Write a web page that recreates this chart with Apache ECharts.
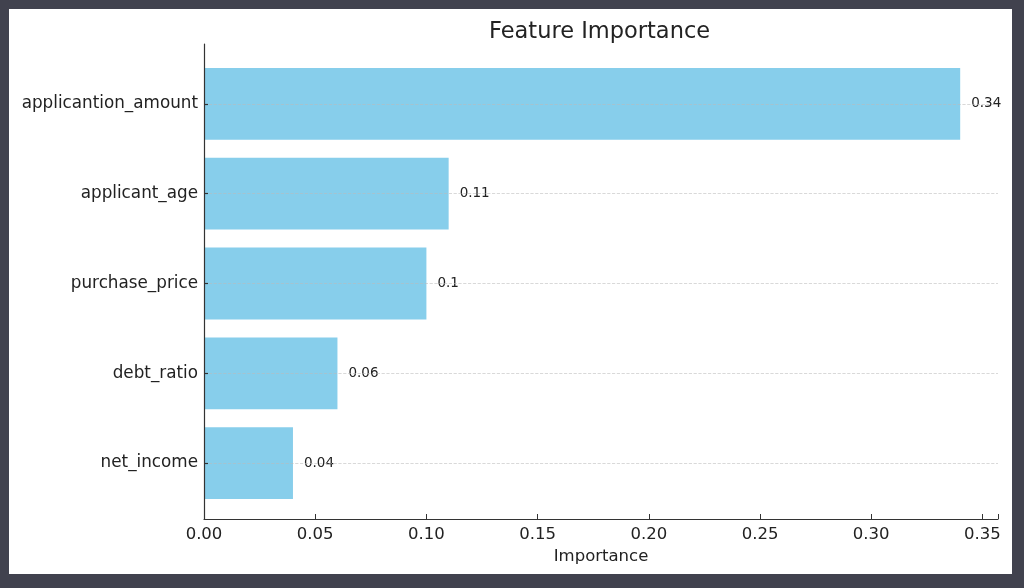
<!DOCTYPE html>
<html>
<head>
<meta charset="utf-8">
<script src="https://cdn.jsdelivr.net/npm/echarts@6/dist/echarts.min.js"></script>
<style>
  html, body { margin: 0; padding: 0; background: #41424e; width: 1024px; height: 588px; overflow: hidden; }
  #card { position: absolute; left: 9px; top: 9px; width: 1003px; height: 565px; background: #fff; }
  #chart { width: 1003px; height: 565px; }
</style>
</head>
<body>
<div id="card"><div id="chart"></div></div>
<script>
// data
var features = ['applicantion_amount', 'applicant_age', 'purchase_price', 'debt_ratio', 'net_income'];
var importance = [0.34, 0.11, 0.1, 0.06, 0.04];
var xTicks = [0, 0.05, 0.10, 0.15, 0.20, 0.25, 0.30, 0.35];

var font = 'DejaVu Sans';
var xMax = 0.357;

var chart = echarts.init(document.getElementById('chart'));
var option = {
    animation: false,
    textStyle: { fontFamily: font },
    title: {
        text: 'Feature Importance',
        left: 475,
        top: 7,
        textStyle: { fontFamily: font, fontSize: 22.5, fontWeight: 'normal', color: '#222' }
    },
    grid: [
        // bars
        { left: 195, right: 14, top: 50, bottom: 66 },
        // frame (spines + x axis)
        { left: 195, right: 14, top: 35, bottom: 55 }
    ],
    xAxis: [
        { gridIndex: 0, type: 'value', min: 0, max: xMax, show: false },
        {
            gridIndex: 1, type: 'value', min: 0, max: xMax, interval: 0.05,
            name: 'Importance', nameLocation: 'middle', nameGap: 25,
            nameTextStyle: { fontFamily: font, fontSize: 16.5, color: '#222' },
            axisLine: { show: true, lineStyle: { color: '#333', width: 1.2 } },
            axisTick: { show: true, inside: true, length: 5, lineStyle: { color: '#333' } },
            axisLabel: {
                fontFamily: font, fontSize: 16.5, color: '#222', margin: 7,
                showMaxLabel: true,
                formatter: function (v) { return xTicks.indexOf(+v.toFixed(2)) >= 0 ? v.toFixed(2) : ''; }
            },
            splitLine: { show: false }
        }
    ],
    yAxis: [
        {
            gridIndex: 0, type: 'category', data: features, inverse: true, z: 5,
            axisLine: { show: true, lineStyle: { color: 'rgba(0,0,0,0)' } },
            axisTick: { show: true, inside: true, length: 4, alignWithLabel: true, lineStyle: { color: '#333', width: 1.2 } },
            axisLabel: { fontFamily: font, fontSize: 16.8, color: '#222', margin: 6 },
            splitLine: { show: false }
        },
        {
            gridIndex: 1, type: 'value', min: 0, max: 1, z: 5,
            axisLine: { show: true, lineStyle: { color: '#333', width: 1.2 } },
            axisTick: { show: false },
            axisLabel: { show: false },
            splitLine: { show: false }
        }
    ],
    series: [
        {
            type: 'bar',
            xAxisIndex: 0,
            yAxisIndex: 0,
            data: importance,
            barWidth: '80%',
            itemStyle: { color: '#87ceeb' },
            label: {
                show: true,
                position: 'right',
                distance: 11,
                fontFamily: font,
                fontSize: 13.5,
                color: '#222'
            },
            markLine: {
                silent: true,
                symbol: 'none',
                label: { show: false },
                lineStyle: { type: 'dashed', color: '#bbb', width: 0.8, opacity: 0.7 },
                data: features.map(function (f) { return { yAxis: f }; })
            }
        }
    ]
};
chart.setOption(option);
</script>
</body>
</html>
